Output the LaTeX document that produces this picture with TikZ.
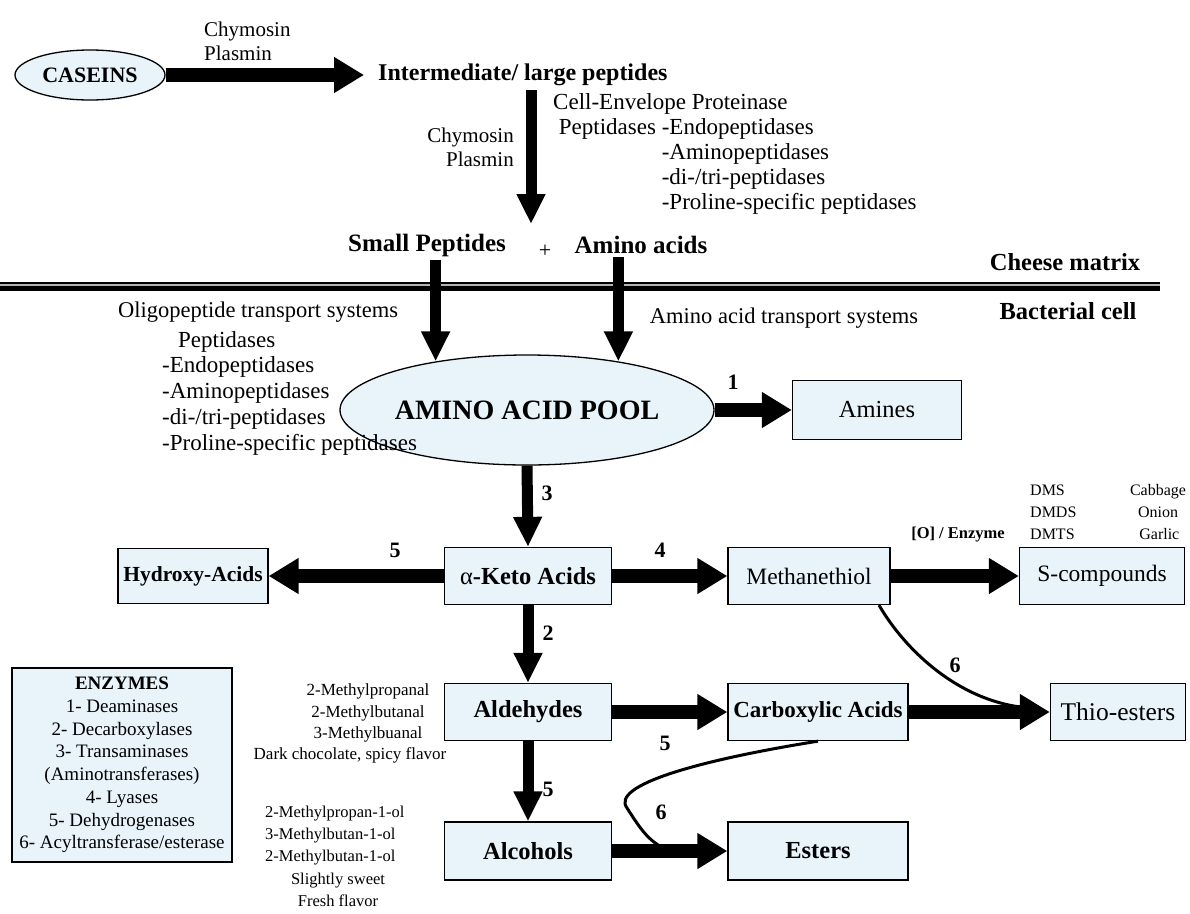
\documentclass[tikz,border=0pt]{standalone}
\usepackage{fontspec}
\setmainfont{Liberation Serif}
\usetikzlibrary{arrows.meta,shapes.geometric,calc}
\definecolor{boxfill}{HTML}{E8F3FA}
\newcommand\fsz[2]{\fontsize{#1}{#2}\selectfont}
\begin{document}
\begin{tikzpicture}[x=1pt,y=-1pt,
  box/.style={draw, line width=1.3pt, fill=boxfill, minimum height=57pt, inner sep=0pt},
  bbox/.style={box, font=\bfseries\fsz{24.5}{27}},
  rbox/.style={box, font=\fsz{23.5}{26}},
  oval/.style={ellipse, draw, line width=1.3pt, fill=boxfill, inner sep=0pt},
  bigh/.style={line width=14pt, -{Triangle[length=30pt,width=34pt]}},
  bigv/.style={line width=11pt, -{Triangle[length=30pt,width=27pt]}},
  num/.style={font=\bfseries\fsz{22}{24}},
  txt/.style={font=\fsz{21}{24}, inner sep=0pt},
  btxt/.style={font=\bfseries\fsz{25}{27}, inner sep=0pt},
  small/.style={font=\fsz{17}{21.5}, inner sep=0pt},
  curve/.style={line width=3pt}
]
\useasboundingbox (0,0) rectangle (1190,913);

% top part
\node[oval, minimum width=150pt, minimum height=50pt, font=\bfseries\fsz{22}{24}] (cas) at (90,75) {CASEINS};
\node[btxt, font=\bfseries\fsz{24}{26}, anchor=west] (inter) at (378,75) {Intermediate/ large peptides};
\node[txt, anchor=south west, align=left] (chy1) at (204,61) {Chymosin\\Plasmin};
\draw[bigh] (cas.east) -- ([xshift=-14pt]inter.west);

\node[txt, anchor=east, align=right] (chy2) at (514,147) {Chymosin\\Plasmin};
\node[txt, anchor=north west, align=left, font=\fsz{23}{25}] (cep) at (553,92)
 {\begin{tabular}{@{}l@{\ }l@{}}\multicolumn{2}{@{}l@{}}{Cell-Envelope Proteinase}\\
  \ Peptidases & -Endopeptidases\\ & -Aminopeptidases\\ & -di-/tri-peptidases\\ & -Proline-specific peptidases\end{tabular}};

\node[btxt] (smallp) at (427,245) {Small Peptides};
\node[font=\fsz{22}{24}, inner sep=0pt] (plus) at (545,251) {+};
\node[btxt] (amino) at (641,245) {Amino acids};
\coordinate (ptop) at (531,224);
\draw[bigv] (inter.south -| ptop) ++(0,4) -- (ptop);

% membrane
\draw[line width=9pt] (0,286) -- (1160,286);
\draw[line width=2.5pt, gray!60] (0,285) -- (1160,285);
\node[btxt, font=\bfseries\fsz{24.5}{26}] (cheese) at (1065,262) {Cheese matrix};
\node[btxt, font=\bfseries\fsz{24.5}{26}] (bact) at (1068,311) {Bacterial cell};

% amino acid pool
\node[oval, minimum width=368pt, minimum height=110pt, font=\bfseries\fsz{28}{30}] (pool) at (527,410) {AMINO ACID POOL};
\draw[bigv] (pool.152 |- smallp.south) ++(0,3) -- (pool.152);
\draw[bigv] (pool.28 |- amino.south) ++(0,3) -- (pool.28);
\node[txt, font=\fsz{22.5}{24}] (oligo) at (258,312) {Oligopeptide transport systems};
\node[txt, font=\fsz{22.5}{24}] (aats) at (784,318) {Amino acid transport systems};
\node[txt, font=\fsz{23}{26}, anchor=west] (pept) at (178,342) {Peptidases};
\node[txt, anchor=north west, align=left, font=\fsz{23}{26}] (plist) at (162,356)
 {-Endopeptidases\\-Aminopeptidases\\-di-/tri-peptidases\\-Proline-specific peptidases};

\node[rbox, font=\fsz{24.5}{26}, minimum width=169pt, minimum height=59pt] (amines) at (877,410) {Amines};
\draw[bigh] (pool.east) -- (amines.west);
\node[num] at (733,382) {1};

% keto acids row
\node[bbox, minimum width=167pt, font=\fsz{24.5}{27}] (keto) at (528,576) {α\textbf{-Keto Acids}};
\draw[bigv] (pool.south) -- (keto.north);
\node[num] at (547,493) {3};
\node[bbox, font=\bfseries\fsz{21.5}{24}, minimum width=150pt, minimum height=55pt] (hyd) at (193,576) {Hydroxy-Acids};
\draw[bigh] (keto.west) -- (hyd.east);
\node[num] at (395,550) {5};
\node[rbox, minimum width=162pt] (meth) at (809,576) {Methanethiol};
\draw[bigh] (keto.east) -- (meth.west);
\node[num] at (660,550) {4};
\node[rbox, minimum width=165pt] (scomp) at (1102,576) {S-compounds};
\draw[bigh] (meth.east) -- (scomp.west);
\node[font=\bfseries\fsz{16.5}{18}, inner sep=0pt] (oenz) at (958,535) {[O] / Enzyme};
\node[font=\fsz{16}{22}, inner sep=0pt, anchor=west, align=left] (dms) at (1030,512) {DMS\\DMDS\\DMTS};
\node[font=\fsz{16}{22}, inner sep=0pt, align=center] (veg) at (1158,512) {Cabbage\\Onion\\\,Garlic};

% aldehydes row
\node[bbox, minimum width=167pt] (ald) at (528,712) {Aldehydes};
\draw[bigv] (keto.south) -- (ald.north);
\node[num] at (548,633) {2};
\node[bbox, font=\bfseries\fsz{23}{26}, minimum width=180pt] (carb) at (818,712) {Carboxylic Acids};
\node[rbox, font=\fsz{25.5}{27}, minimum width=135pt] (thio) at (1118,712) {Thio-esters};
\draw[curve] ([xshift=70pt]meth.south) .. controls (905,650) and (960,703) .. ([xshift=-20pt,yshift=4pt]thio.west);
\draw[bigh] (ald.east) -- (carb.west);
\node[num] at (665,743) {5};
\draw[bigh] (carb.east) -- (thio.west);
\node[num] at (955,665) {6};
\node[small, align=center] (aldtxt) at (368,713) {2-Methylpropanal\\2-Methylbutanal\\3-Methylbuanal};
\node[small] (aldflav) at (350,755) {Dark chocolate, spicy flavor};

% alcohols row
\node[bbox, minimum width=167pt, minimum height=58pt] (alc) at (528,851) {Alcohols};
\draw[bigv] (ald.south) -- (alc.north);
\node[num] at (548,789) {5};
\node[bbox, minimum width=180pt, minimum height=58pt] (est) at (818,851) {Esters};
\draw[curve] (carb.south) .. controls (700,760) and (610,785) .. (627,808) .. controls (640,828) and (650,845) .. (672,851);
\draw[bigh] (alc.east) -- (est.west);
\node[num] at (661,812) {6};
\node[small, font=\fsz{16.5}{22}, anchor=north west, align=left] (alctxt) at (265,806) {2-Methylpropan-1-ol\\3-Methylbutan-1-ol\\2-Methylbutan-1-ol};
\node[small, font=\fsz{16.5}{21.5}, anchor=north, align=center] (alcflav) at (338,873) {Slightly sweet\\Fresh flavor};

% enzymes legend
\node[box, minimum width=220pt, minimum height=194pt, align=center, font=\fsz{19}{22.7}] (enz) at (122,765)
 {\textbf{ENZYMES}\\1- Deaminases\\2- Decarboxylases\\3- Transaminases\\(Aminotransferases)\\4- Lyases\\5- Dehydrogenases\\6- Acyltransferase/esterase};
\end{tikzpicture}
\end{document}
